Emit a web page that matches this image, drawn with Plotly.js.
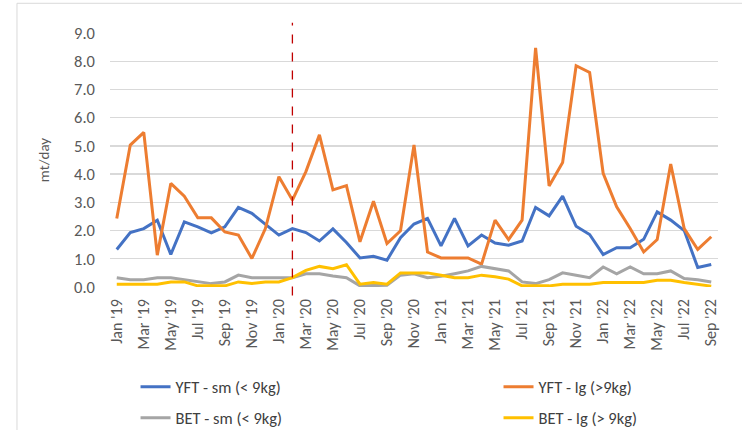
<!DOCTYPE html>
<html>
<head>
<meta charset="utf-8">
<script src="https://cdn.plot.ly/plotly-3.0.1.min.js"></script>
<style>html,body{margin:0;padding:0;background:#fff;}#chart{width:742px;height:430px;}</style>
</head>
<body>
<div id="chart"></div>
<script>
const months = ["Jan '19","Feb '19","Mar '19","Apr '19","May '19","Jun '19","Jul '19","Aug '19","Sep '19","Oct '19","Nov '19","Dec '19",
  "Jan '20","Feb '20","Mar '20","Apr '20","May '20","Jun '20","Jul '20","Aug '20","Sep '20","Oct '20","Nov '20","Dec '20",
  "Jan '21","Feb '21","Mar '21","Apr '21","May '21","Jun '21","Jul '21","Aug '21","Sep '21","Oct '21","Nov '21","Dec '21",
  "Jan '22","Feb '22","Mar '22","Apr '22","May '22","Jun '22","Jul '22","Aug '22","Sep '22"];
const yftSm = [1.33,1.93,2.07,2.37,1.15,2.31,2.13,1.92,2.13,2.82,2.61,2.23,
  1.84,2.07,1.93,1.63,2.06,1.58,1.03,1.09,0.95,1.75,2.23,2.43,
  1.46,2.43,1.46,1.84,1.56,1.48,1.63,2.82,2.52,3.22,2.15,1.86,
  1.15,1.39,1.39,1.69,2.66,2.37,2.00,0.69,0.80];
const yftLg = [2.43,5.03,5.48,1.13,3.67,3.22,2.45,2.45,1.95,1.84,1.01,2.07,
  3.91,3.08,4.09,5.39,3.44,3.59,1.60,3.04,1.54,1.99,5.03,1.24,
  1.03,1.03,1.03,0.81,2.37,1.68,2.37,8.47,3.58,4.41,7.84,7.60,
  4.03,2.84,2.07,1.24,1.68,4.36,2.07,1.33,1.78];
const betSm = [0.33,0.26,0.26,0.33,0.33,0.26,0.18,0.12,0.18,0.42,0.33,0.33,
  0.33,0.33,0.47,0.47,0.39,0.33,0.04,0.06,0.06,0.42,0.47,0.33,
  0.38,0.47,0.57,0.73,0.65,0.57,0.18,0.12,0.26,0.50,0.42,0.33,
  0.71,0.47,0.71,0.47,0.47,0.57,0.30,0.26,0.18];
const betLg = [0.10,0.10,0.10,0.10,0.18,0.18,0.04,0.04,0.04,0.18,0.12,0.18,
  0.18,0.33,0.59,0.73,0.65,0.79,0.10,0.16,0.10,0.50,0.50,0.50,
  0.42,0.33,0.33,0.42,0.36,0.28,0.04,0.04,0.04,0.10,0.10,0.10,
  0.16,0.16,0.16,0.16,0.24,0.24,0.16,0.09,0.03];
const seriesNames = ["YFT - sm (< 9kg)","YFT - lg (>9kg)","BET - sm (< 9kg)","BET - lg (> 9kg)"];
const yTicks = [0,1,2,3,4,5,6,7,8,9];
const markerMonth = "Feb '20";

const FONT = 'Carlito, "Noto Sans", sans-serif';
const tickVals = months.filter((m, i) => i % 2 === 0);

const mk = (y, name, color, legend) => ({
  type: 'scatter', mode: 'lines', x: months, y: y, name: name,
  line: {color: color, width: 3}, legend: legend, cliponaxis: false
});
const data = [
  mk(yftSm, seriesNames[0], '#4472C4', 'legend'),
  mk(yftLg, seriesNames[1], '#ED7D31', 'legend2'),
  mk(betSm, seriesNames[2], '#A5A5A5', 'legend3'),
  mk(betLg, seriesNames[3], '#FFC000', 'legend4')
];
const lg = (x, y) => ({
  orientation: 'h', x: x, y: y, xanchor: 'left', yanchor: 'middle',
  bgcolor: 'rgba(0,0,0,0)', borderwidth: 0,
  font: {family: FONT, size: 16.5, color: '#404040'}
});
const layout = {
  width: 742, height: 430,
  margin: {l: 110, r: 24, t: 33, b: 143, autoexpand: false},
  paper_bgcolor: '#fff', plot_bgcolor: '#fff',
  font: {family: FONT, color: '#595959'},
  showlegend: true,
  legend: lg(0.042, -0.394),
  legend2: lg(0.639, -0.394),
  legend3: lg(0.042, -0.516),
  legend4: lg(0.639, -0.516),
  xaxis: {
    type: 'category', categoryorder: 'array', categoryarray: months,
    range: [-0.5, months.length - 0.5], automargin: false,
    tickmode: 'array', tickvals: tickVals, ticktext: tickVals,
    tickangle: -90, ticks: '', showgrid: false, zeroline: false, showline: false,
    ticklabelstandoff: 8, tickfont: {family: FONT, size: 16, color: '#595959'}
  },
  yaxis: {
    range: [0, 9], tickmode: 'array', tickvals: yTicks, automargin: false,
    ticktext: yTicks.map(v => v.toFixed(1)),
    showgrid: true, gridcolor: '#d9d9d9', gridwidth: 1.3, zeroline: false, showline: false,
    ticks: '', ticklabelstandoff: 14,
    tickfont: {family: FONT, size: 16.5, color: '#595959'},
    title: {text: 'mt/day', font: {family: FONT, size: 15, color: '#595959'}, standoff: 20}
  },
  shapes: [
    {type: 'line', xref: 'x', yref: 'paper', x0: markerMonth, x1: markerMonth, y0: -0.033, y1: 1.04,
     line: {color: '#C00000', width: 1.3, dash: 'dash'}},
    {type: 'rect', xref: 'paper', yref: 'paper', x0: -0.153, x1: 1.2, y0: -0.7, y1: 1.117,
     line: {color: '#d9d9d9', width: 1}, fillcolor: 'rgba(0,0,0,0)', layer: 'below'}
  ]
};
Plotly.newPlot('chart', data, layout, {displayModeBar: false, staticPlot: true});
</script>
</body>
</html>
